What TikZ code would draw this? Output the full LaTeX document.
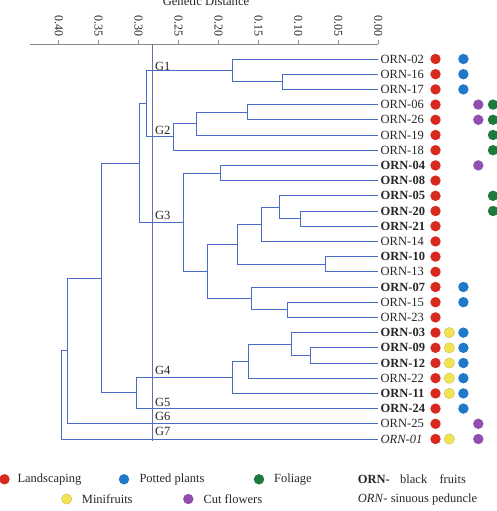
\documentclass[tikz,border=0pt]{standalone}
\usepackage{fontspec}
\setmainfont{Liberation Serif}
\begin{document}
\begin{tikzpicture}[x=1pt,y=-1pt,
  br/.style={draw=treeblue,line width=0.9pt},
  lab/.style={anchor=west,inner sep=0pt,font=\fontsize{12.5}{14}\selectfont,text=txt},
  glab/.style={anchor=west,inner sep=0pt,font=\fontsize{12.5}{14}\selectfont,text=txt},
  tlab/.style={inner sep=0pt,rotate=-90,font=\fontsize{12}{14}\selectfont,text=txt},
  dotR/.style={circle,fill=dred,inner sep=0pt,minimum size=10.4pt},
  dotY/.style={circle,fill=dyel,draw=dyel!80!black,line width=0.3pt,inner sep=0pt,minimum size=10.4pt},
  dotB/.style={circle,fill=dblue,inner sep=0pt,minimum size=10.4pt},
  dotP/.style={circle,fill=dpur,inner sep=0pt,minimum size=10.4pt},
  dotG/.style={circle,fill=dgreen,inner sep=0pt,minimum size=10.4pt}]
\definecolor{treeblue}{HTML}{4A6CC6}
\definecolor{cutc}{HTML}{5E73A0}
\definecolor{axc}{HTML}{8A8A8A}
\definecolor{txt}{HTML}{262626}
\definecolor{dred}{HTML}{D8291F}
\definecolor{dyel}{HTML}{F2E352}
\definecolor{dblue}{HTML}{1F78C8}
\definecolor{dpur}{HTML}{9150B0}
\definecolor{dgreen}{HTML}{1D7A3B}
\useasboundingbox (0,0) rectangle (497,511);
% title
\node[inner sep=0pt,anchor=base,font=\fontsize{12.6}{14}\selectfont,text=txt] (title) at (206,5.5) {Genetic Distance};
% axis
\coordinate (axL) at (30,44);
\coordinate (axR) at (378.3,44);
\draw[axc,line width=0.8pt] (axL) -- (axR);
\foreach \v/\t [count=\k] in {0.40/0.40,0.35/0.35,0.30/0.30,0.25/0.25,0.20/0.20,0.15/0.15,0.10/0.10,0.05/0.05,0.00/0.00}{
  \pgfmathsetmacro{\xx}{378.3-799*\v}
  \coordinate (tk\k) at (\xx,44);
  \draw[axc,line width=0.8pt] (tk\k) -- ++(0,-3.5);
  \node[tlab] (tl\k) at (\xx,26) {\t};
}
% leaves
\foreach \n/\lbl/\st [count=\i from 0] in {
 02/ORN-02/n,16/ORN-16/n,17/ORN-17/n,06/ORN-06/n,26/ORN-26/n,19/ORN-19/n,18/ORN-18/n,
 04/ORN-04/b,08/ORN-08/b,05/ORN-05/b,20/ORN-20/b,21/ORN-21/b,14/ORN-14/n,10/ORN-10/b,
 13/ORN-13/n,07/ORN-07/b,15/ORN-15/n,23/ORN-23/n,03/ORN-03/b,09/ORN-09/b,12/ORN-12/b,
 22/ORN-22/n,11/ORN-11/b,24/ORN-24/b,25/ORN-25/n,01/ORN-01/i}{
  \pgfmathsetmacro{\yy}{59+15.2*\i}
  \coordinate (l\i) at (378.3,\yy);
  \if\st b
    \node[lab] (t\i) at (380.5,\yy) {\textbf{\lbl}};
  \else\if\st i
    \node[lab] (t\i) at (380.5,\yy) {\textit{\lbl}};
  \else
    \node[lab] (t\i) at (380.5,\yy) {\lbl};
  \fi\fi
  \node[dotR] (r\i) at (435.5,\yy) {};
}
% attribute dots
\foreach \i in {18,19,20,21,22,25} \node[dotY] (y\i) at (449.3,{59+15.2*\i}) {};
\foreach \i in {0,1,2,15,16,18,19,20,21,22,23} \node[dotB] (b\i) at (463.4,{59+15.2*\i}) {};
\foreach \i in {3,4,7,24,25} \node[dotP] (p\i) at (478.3,{59+15.2*\i}) {};
\foreach \i in {3,4,5,6,9,10} \node[dotG] (g\i) at (493,{59+15.2*\i}) {};
% internal nodes
\coordinate (a1) at (282.3,81.8);
\coordinate (G1) at (232.7,70.4);
\coordinate (b1) at (247.3,112.2);
\coordinate (b2) at (196.7,123.6);
\coordinate (G2) at (173.3,136.9);
\coordinate (g12) at (146.7,103.7);
\coordinate (c1) at (220.7,173);
\coordinate (c2) at (300,218.6);
\coordinate (c3) at (279.3,207.2);
\coordinate (c4) at (261,224.3);
\coordinate (c5) at (325.7,264.2);
\coordinate (c6) at (237,244.25);
\coordinate (c7) at (287.7,309.8);
\coordinate (c8) at (251.7,298.4);
\coordinate (c9) at (207.7,271.3);
\coordinate (G3) at (183.3,222.2);
\coordinate (g123) at (139,163);
\coordinate (d1) at (310.7,355.4);
\coordinate (d2) at (291.7,344);
\coordinate (d3) at (248.3,361.1);
\coordinate (G4) at (232.7,377.25);
\coordinate (g45) at (136.7,392.9);
\coordinate (e1) at (101,278);
\coordinate (e2) at (67.3,350.9);
\coordinate (root) at (61,395);
% branches
\foreach \p/\a/\b in {a1/l1/l2, G1/l0/a1, b1/l3/l4, b2/b1/l5, G2/b2/l6, g12/G1/G2,
  c1/l7/l8, c2/l10/l11, c3/l9/c2, c4/c3/l12, c5/l13/l14, c6/c4/c5, c7/l16/l17, c8/l15/c7,
  c9/c6/c8, G3/c1/c9, g123/g12/G3, d1/l19/l20, d2/l18/d1, d3/d2/l21, G4/d3/l22,
  g45/G4/l23, e1/g123/g45, e2/e1/l24, root/e2/l25}{
  \draw[br] (\p) |- (\a);
  \draw[br] (\p) |- (\b);
}
% cut line
\coordinate (cutT) at (152.3,44);
\coordinate (cutB) at (152.3,441);
\draw[cutc,line width=0.7pt] (cutT) -- (cutB);
% group labels
\node[glab] (lg1) at (155,66) {G1};
\node[glab] (lg2) at (155,130.7) {G2};
\node[glab] (lg3) at (155,215.7) {G3};
\node[glab] (lg4) at (155,370) {G4};
\node[glab] (lg5) at (155,402.3) {G5};
\node[glab] (lg6) at (155,416.7) {G6};
\node[glab] (lg7) at (155,431.7) {G7};
% legend
\node[dotR] (kr) at (4.5,479.3) {};
\node[lab] (kt1) at (17.3,479.3) {Landscaping};
\node[dotB] (kb) at (124,479.3) {};
\node[lab] (kt2) at (139.3,479.3) {Potted plants};
\node[dotG] (kg) at (259,479.3) {};
\node[lab] (kt3) at (274,479.3) {Foliage};
\node[lab] (kt4) at (357.7,479.3) {\textbf{ORN-}};
\node[lab] (kt5) at (400,479.3) {black};
\node[lab] (kt6) at (439.3,479.3) {fruits};
\node[dotY] (ky) at (66.7,499) {};
\node[lab] (kt7) at (81.7,499) {Minifruits};
\node[dotP] (kp) at (188.3,499) {};
\node[lab] (kt8) at (203.3,499) {Cut flowers};
\node[lab] (kt9) at (357.7,499) {\textit{ORN}- sinuous peduncle};
\end{tikzpicture}
\end{document}
